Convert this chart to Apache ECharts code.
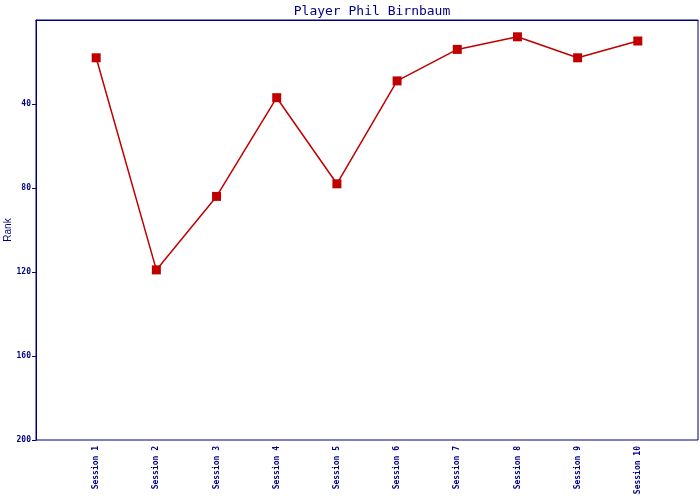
<!DOCTYPE html>
<html>
<head>
<meta charset="utf-8">
<script src="https://cdn.jsdelivr.net/npm/echarts@6/dist/echarts.min.js"></script>
<style>html,body{margin:0;padding:0;background:#fff}#c{width:700px;height:500px}</style>
</head>
<body>
<div id="c"></div>
<script>
const title = 'Player Phil Birnbaum';
const categories = ['Session 1','Session 2','Session 3','Session 4','Session 5','Session 6','Session 7','Session 8','Session 9','Session 10'];
const ranks = [18, 119, 84, 37, 78, 29, 14, 8, 18, 10];
const yTicks = [0, 40, 80, 120, 160, 200];

const navy = '#000080';
const red = '#c00000';
const mono = '"DejaVu Sans Mono", "Liberation Mono", monospace';

// pad the category axis with an empty slot on each side
const xCats = [''].concat(categories, ['']);
const seriesData = ['-'].concat(ranks, ['-']);

const chart = echarts.init(document.getElementById('c'), null, {renderer: 'canvas'});
chart.setOption({
  animation: false,
  backgroundColor: '#ffffff',
  title: {
    text: title,
    left: 367,
    textAlign: 'center',
    top: 0,
    textStyle: {fontFamily: mono, fontSize: 13, fontWeight: 'normal', color: navy}
  },
  grid: {
    left: 36, right: 2, top: 20, bottom: 60,
    containLabel: false,
    outerBoundsMode: 'none',
    show: true, borderColor: navy, borderWidth: 1, backgroundColor: 'transparent'
  },
  xAxis: {
    type: 'category',
    data: xCats,
    boundaryGap: false,
    axisLine: {lineStyle: {color: navy, width: 1}},
    axisTick: {show: false},
    splitLine: {show: false},
    axisLabel: {
      rotate: 90, margin: 6, interval: 0,
      fontFamily: mono, fontSize: 8, fontWeight: 'bold', color: navy
    }
  },
  yAxis: {
    type: 'value',
    inverse: true,
    min: yTicks[0],
    max: yTicks[yTicks.length - 1],
    interval: 40,
    name: 'Rank',
    nameLocation: 'middle',
    nameGap: 23,
    nameMoveOverlap: false,
    nameTextStyle: {fontFamily: '"Liberation Sans", Arial, sans-serif', fontSize: 10, color: navy},
    axisLine: {show: true, lineStyle: {color: navy, width: 1}},
    axisTick: {show: true, length: 4, inside: false, lineStyle: {color: navy, width: 1}, customValues: yTicks.slice(1)},
    splitLine: {show: false},
    axisLabel: {
      margin: 5,
      fontFamily: mono, fontSize: 8, fontWeight: 'bold', color: navy,
      formatter: v => (v === 0 ? '' : String(v))
    }
  },
  series: [{
    type: 'line',
    data: seriesData,
    symbol: 'rect',
    symbolSize: 9,
    showAllSymbol: true,
    itemStyle: {color: red},
    lineStyle: {color: red, width: 1.5},
    connectNulls: false
  }]
});
</script>
</body>
</html>
